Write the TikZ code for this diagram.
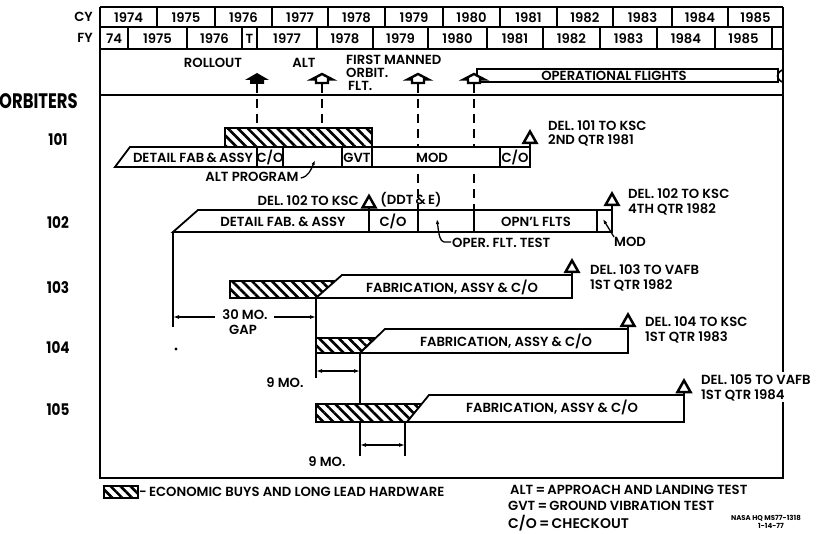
\documentclass[tikz,border=0pt]{standalone}
\usepackage{fontspec}
\setmainfont{Poppins}[UprightFont=* SemiBold, BoldFont=* Bold]
\usepackage{graphicx}
\usetikzlibrary{patterns.meta,arrows.meta}
\tikzset{
  txt/.style={inner sep=0pt, font=\fontsize{13.2}{15}\selectfont},
  ltxt/.style={txt, anchor=west},
  rtxt/.style={txt, anchor=east},
  frame/.style={line width=2.4pt},
  grid/.style={line width=1.6pt},
  bar/.style={draw, line width=1.8pt, fill=white, line join=miter},
  hatch/.style={draw, line width=1.8pt, pattern={Lines[angle=-45,distance=7pt,line width=2.6pt]}},
  msline/.style={line width=2.8pt, dash pattern=on 9pt off 6pt},
  dimline/.style={line width=1.3pt},
  dimarrow/.style={line width=1.3pt, {Latex[length=6pt,width=4pt]}-{Latex[length=6pt,width=4pt]}},
  leader/.style={line width=1.3pt, -{Latex[length=5pt,width=3.5pt]}},
  delv/.style={draw, line width=2.5pt, fill=white, line join=miter},
  pics/deliv/.style={code={\draw[delv] (0,-12) -- (6.5,-0.5) -- (-6.5,-0.5) -- cycle;}},
  pics/msfilled/.style={code={\fill (0,-11) -- (12,-4) -- (7,-4) -- (7,0) -- (-7,0) -- (-7,-4) -- (-12,-4) -- cycle;}},
  pics/msopen/.style={code={\draw[line width=2.4pt, fill=white, line join=miter] (0,-10) -- (10.5,-4.5) -- (6,-4.5) -- (6,-1) -- (-6,-1) -- (-6,-4.5) -- (-10.5,-4.5) -- cycle;}},
}
\begin{document}
\begin{tikzpicture}[x=1pt,y=-1pt]
\useasboundingbox (0,0) rectangle (819,534);

% ---- header grid
\draw[frame] (100,7) -- (783,7);
\draw[grid] (100,27) -- (783,27);
\draw[grid] (100,49) -- (783,49);
\draw[grid] (100,95) -- (783,95);
\draw[frame] (783,372) -- (783,7);
\draw[frame] (100,7) -- (100,478) -- (783,478) -- (783,402);
\node[rtxt] (cy) at (93,17) {CY};
\node[rtxt] (fy) at (93,38) {FY};
\foreach \a/\b/\yr in {100/157/1974,157/215/1975,215/272/1976,272/328/1977,328/385/1978,385/443/1979,443/500/1980,500/557/1981,557/613/1982,613/672/1983,672/728/1984,728/783/1985}{
  \draw[grid] (\b,7) -- (\b,27);
  \node[txt] (cy\yr) at ({(\a+\b)/2},17.5) {\yr};
}
\foreach \a/\b/\yr in {100/128/74,128/187/1975,187/242/1976,242/257/T,257/317/1977,317/373/1978,373/428/1979,428/487/1980,487/543/1981,543/600/1982,600/657/1983,657/715/1984,715/772/1985}{
  \draw[grid] (\b,27) -- (\b,49);
  \node[txt] (fy\yr) at ({(\a+\b)/2},38.5) {\yr};
}

% ---- milestones
\node[txt] (rollout) at (213,63) {ROLLOUT};
\node[txt] (altlab) at (304,63) {ALT};
\node[ltxt] (fmo1) at (346,60) {FIRST MANNED};
\node[ltxt] (fmo2) at (346,73) {ORBIT.};
\node[ltxt] (fmo3) at (348,86) {FLT.};
\draw[bar] (477,69) rectangle (778,82);
\draw[line width=1.6pt] (782,70) .. controls (776,74) and (776,78) .. (782,82);
\node[txt] (opfl) at (614,75.5) {OPERATIONAL FLIGHTS};
\coordinate (m1) at (257,84);
\coordinate (m2) at (322,84);
\coordinate (m3) at (418,84);
\coordinate (m4) at (474,84);

% ---- ORBITERS labels
\node[inner sep=0pt, anchor=west, font=\bfseries\fontsize{21}{22}\selectfont] (orb) at (-1,101) {\scalebox{0.78}[1]{ORBITERS}};
\foreach \n/\yy in {101/140,102/223,103/288,104/348,105/410}{
  \node[inner sep=0pt, font=\bfseries\fontsize{16}{17}\selectfont] (o\n) at (58,\yy) {\scalebox{0.85}[1]{\n}};
}

% ---- milestone dashed lines
\coordinate (d1) at (257,128);
\coordinate (d2) at (322,128);
\coordinate (d3) at (418,210);
\coordinate (d4) at (474,210);
\draw[msline] (m1) -- (d1);
\draw[msline] (m2) -- (d2);
\draw[msline] (m3) -- (d3);
\draw[msline] (m4) -- (d4);

% ---- orbiter 101
\draw[hatch] (225,128) rectangle (372,147);
\draw[bar] (115,167) -- (130,147) -- (530,147) -- (530,167) -- cycle;
\foreach \x in {257,283,342,372,500}{\draw[line width=1.8pt] (\x,147) -- (\x,167);}
\node[txt] (a1) at (193,157.5) {DETAIL FAB\,\&\,ASSY};
\node[txt] (a2) at (270,157.5) {C/O};
\node[txt] (a3) at (357,157.5) {GVT};
\node[txt] (a4) at (432,157.5) {MOD};
\node[txt] (a5) at (515,157.5) {C/O};
\node[txt] (altprog) at (252,177) {ALT PROGRAM};
\coordinate (altp) at (315,160);
\draw[leader] (altprog.east) ++(2,1) .. controls (308,177) and (311,170) .. (altp);
\draw[line width=1.8pt] (530,147) -- (530,143);
\pic at (530,143.5) {deliv};
\node[ltxt] (del101a) at (548,126) {DEL. 101 TO KSC};
\node[ltxt] (del101b) at (548,140) {2ND QTR 1981};

% ---- orbiter 102
\draw[bar] (173,232) -- (198,210) -- (612,210) -- (612,232) -- cycle;
\foreach \x in {369,418,474,597}{\draw[line width=1.8pt] (\x,210) -- (\x,232);}
\draw[line width=1.8pt] (369,210) -- (369,207);
\pic at (369,208) {deliv};
\node[txt] (b1) at (283,221.5) {DETAIL FAB.\ \&\ ASSY};
\node[txt] (b2) at (393,221.5) {C/O};
\node[txt] (b3) at (536,221.5) {OPN'L FLTS};
\node[rtxt] (del102k) at (359,201) {DEL. 102 TO KSC};
\node[txt] (ddte) at (411,200) {(DDT\,\&\,E)};
\node[ltxt] (oft) at (452,243) {OPER.\ FLT.\ TEST};
\coordinate (oftp) at (437,219);
\draw[leader] (oft.west) ++(-1,-1) -- (444,242) .. controls (440,241) and (439,236) .. (oftp);
\node[ltxt] (modl) at (614,242) {MOD};
\coordinate (modp) at (603,219);
\draw[leader] (614,237) -- (modp);
\draw[line width=1.8pt] (612,210) -- (612,205);
\pic at (612,205.5) {deliv};
\node[ltxt] (del102a) at (628,194) {DEL. 102 TO KSC};
\node[ltxt] (del102b) at (628,209) {4TH QTR 1982};
\coordinate (g1) at (173,232);
\coordinate (g1b) at (173,327);
\draw[dimline] (g1) -- (g1b);

% ---- orbiter 103
\draw[hatch] (230,281) -- (336,281) -- (316,298) -- (230,298) -- cycle;
\draw[bar] (316,298) -- (342,275) -- (572,275) -- (572,298) -- cycle;
\draw[line width=1.8pt] (572,275) -- (572,272);
\pic at (572,272.5) {deliv};
\node[txt] (c1) at (452,287.5) {FABRICATION,\ ASSY \&\ C/O};
\node[ltxt] (del103a) at (590,270) {DEL. 103 TO VAFB};
\node[ltxt] (del103b) at (590,285) {1ST QTR 1982};
\coordinate (g2) at (316,298);
\coordinate (g2b) at (316,338);
\draw[dimline] (g2) -- (g2b);
\node[txt] (gap1) at (245,315) {30 MO.};
\node[txt] (gap2) at (243,329.5) {GAP};
\draw[dimline, {Latex[length=6pt,width=4pt]}-] (173,317) -- (215,317);
\draw[dimline, -{Latex[length=6pt,width=4pt]}] (274,317) -- (316,317);

% ---- orbiter 104
\draw[hatch] (316,338) -- (375,338) -- (360,353) -- (316,353) -- cycle;
\draw[bar] (360,353) -- (385,329) -- (628,329) -- (628,353) -- cycle;
\draw[line width=1.8pt] (628,329) -- (628,326);
\pic at (628,326.5) {deliv};
\node[txt] (d1t) at (506,341.5) {FABRICATION,\ ASSY \&\ C/O};
\node[ltxt] (del104a) at (645,322) {DEL. 104 TO KSC};
\node[ltxt] (del104b) at (645,337) {1ST QTR 1983};
\coordinate (h1) at (316,353);
\coordinate (h1b) at (316,378);
\coordinate (h2) at (360,353);
\coordinate (h2b) at (360,404);
\draw[dimline] (h1) -- (h1b);
\draw[dimline] (h2) -- (h2b);
\draw[dimarrow] (316,371) -- (360,371);
\node[txt] (nine1) at (285,383) {9 MO.};

% ---- orbiter 105
\draw[hatch] (316,404) -- (422,404) -- (407,422) -- (316,422) -- cycle;
\draw[bar] (407,422) -- (429,395) -- (684,395) -- (684,422) -- cycle;
\draw[line width=1.8pt] (684,395) -- (684,392);
\pic at (684,392.5) {deliv};
\node[txt] (e1) at (552,407.5) {FABRICATION,\ ASSY \&\ C/O};
\node[ltxt] (del105a) at (701,380) {DEL. 105 TO VAFB};
\node[ltxt] (del105b) at (701,395) {1ST QTR 1984};
\coordinate (k1) at (360,422);
\coordinate (k1b) at (360,456);
\coordinate (k2) at (405,422);
\coordinate (k2b) at (405,456);
\draw[dimline] (k1) -- (k1b);
\draw[dimline] (k2) -- (k2b);
\draw[dimarrow] (360,445) -- (405,445);
\node[txt] (nine2) at (327,462) {9 MO.};
\fill (176,349) circle (1.6pt);

% ---- milestone symbols (on top)
\pic at (m1) {msfilled};
\pic at (m2) {msopen};
\pic at (m3) {msopen};
\pic at (m4) {msopen};

% ---- legend
\draw[hatch, line width=1.4pt] (104,486) rectangle (138,498);
\node[ltxt] (leg1) at (139,492) {-\,ECONOMIC BUYS AND LONG LEAD HARDWARE};
\node[ltxt] (leg2) at (510,490) {ALT\,=\,APPROACH AND LANDING TEST};
\node[ltxt] (leg3) at (508,506) {GVT\,=\,GROUND VIBRATION TEST};
\node[ltxt, font=\fontsize{14}{16}\selectfont] (leg4) at (508,523) {C/O\,=\,CHECKOUT};
\node[inner sep=0pt, anchor=east, font=\bfseries\fontsize{7}{8}\selectfont] (nasa1) at (801,518) {NASA HQ MS77-1318};
\node[inner sep=0pt, font=\bfseries\fontsize{7}{8}\selectfont] (nasa2) at (771,526) {1-14-77};
\end{tikzpicture}
\end{document}
